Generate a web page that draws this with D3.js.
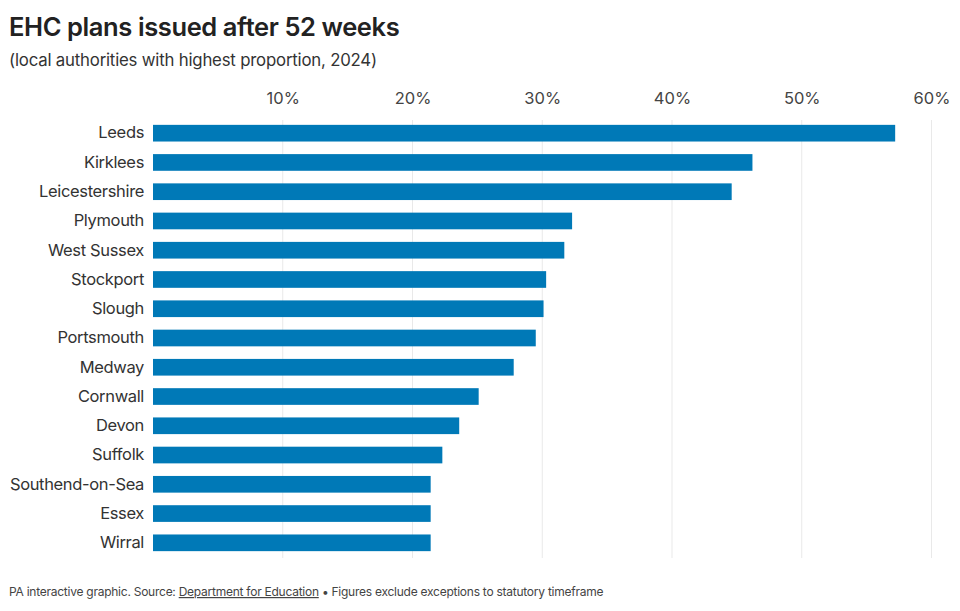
<!DOCTYPE html>
<html>
<head>
<meta charset="utf-8">
<script src="https://cdn.jsdelivr.net/npm/d3@7"></script>
<style>
  body { margin: 0; background: #fff; }
  text { font-family: Inter, "Noto Sans", sans-serif; }
</style>
</head>
<body>
<script>
// data
var areas = ['Leeds', 'Kirklees', 'Leicestershire', 'Plymouth', 'West Sussex', 'Stockport', 'Slough',
    'Portsmouth', 'Medway', 'Cornwall', 'Devon', 'Suffolk', 'Southend-on-Sea', 'Essex', 'Wirral'];
var shares = [57.2, 46.2, 44.6, 32.3, 31.7, 30.3, 30.1, 29.5, 27.8, 25.1, 23.6, 22.3, 21.4, 21.4, 21.4];
var tickValues = [10, 20, 30, 40, 50, 60];

var width = 960,
    height = 611;

var margin = {
    top: 119,
    left: 153,
    right: 28,
    bottom: 54
};

var svg = d3.select("body").append("svg")
    .attr("width", width)
    .attr("height", height);

var x = d3.scaleLinear()
    .domain([0, 60])
    .range([margin.left, 931.5]);

var y = d3.scaleBand()
    .domain(areas)
    .range([margin.top, height - margin.bottom])
    .paddingInner(0.43)
    .paddingOuter(0.2);

// title + subtitle
svg.append("text")
    .attr("x", 9).attr("y", 36)
    .style("font-size", "25.5px").style("font-weight", "600")
    .style("fill", "#222").style("letter-spacing", "-0.4px")
    .text("EHC plans issued after 52 weeks");

svg.append("text")
    .attr("x", 9).attr("y", 66)
    .style("font-size", "16.8px").style("fill", "#333")
    .style("letter-spacing", "-0.2px")
    .text("(local authorities with highest proportion, 2024)");

// gridlines
svg.append("g").selectAll("line")
    .data(tickValues)
    .enter().append("line")
    .attr("x1", d => x(d)).attr("x2", d => x(d))
    .attr("y1", 120).attr("y2", 558)
    .style("stroke", "#e9e9e9").style("stroke-width", 1);

// top axis labels
var xAxis = d3.axisTop(x)
    .tickValues(tickValues)
    .tickFormat(d => d + "%")
    .tickSize(0)
    .tickPadding(0);

var gx = svg.append("g")
    .attr("transform", "translate(0,104)")
    .call(xAxis);
gx.select(".domain").remove();
gx.selectAll("text")
    .style("font-family", "Inter, 'Noto Sans', sans-serif")
    .style("font-size", "16.5px")
    .style("fill", "#444");

// bars
svg.append("g").selectAll("rect")
    .data(areas)
    .enter().append("rect")
    .attr("x", x(0))
    .attr("y", d => y(d))
    .attr("height", y.bandwidth())
    .attr("width", (d, i) => x(shares[i]) - x(0))
    .style("fill", "#0079b7");

// category labels
var yAxis = d3.axisLeft(y).tickSize(0).tickPadding(9);
var gy = svg.append("g")
    .attr("transform", "translate(" + margin.left + ",0)")
    .call(yAxis);
gy.select(".domain").remove();
gy.selectAll("text")
    .style("font-family", "Inter, 'Noto Sans', sans-serif")
    .style("font-size", "16.5px")
    .style("letter-spacing", "-0.35px")
    .style("fill", "#333");

// footer
var foot = svg.append("text")
    .attr("x", 9).attr("y", 596)
    .style("font-size", "12px").style("fill", "#444")
    .style("letter-spacing", "-0.25px");
foot.append("tspan").text("PA interactive graphic. Source: ");
foot.append("tspan").style("text-decoration", "underline").text("Department for Education");
foot.append("tspan").text(" \u2022 Figures exclude exceptions to statutory timeframe");
</script>
</body>
</html>
